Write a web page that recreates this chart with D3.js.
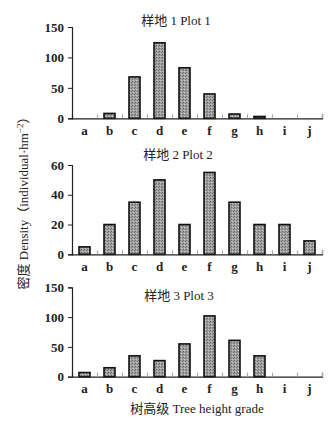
<!DOCTYPE html>
<html>
<head>
<meta charset="utf-8">
<script src="https://cdn.jsdelivr.net/npm/d3@7"></script>
<style>
  body { margin: 0; background: #fff; }
  text { font-family: "Liberation Serif", "Noto Sans CJK SC", serif; }
</style>
</head>
<body>
<div id="chart"></div>
<script>
const categories = ["a", "b", "c", "d", "e", "f", "g", "h", "i", "j"];
const plot1Values = [0, 8, 68, 124, 83, 40, 7, 3, 0, 0];
const plot2Values = [5, 20, 35, 50, 20, 55, 35, 20, 20, 9];
const plot3Values = [7, 15, 35, 27, 55, 102, 61, 35, 0, 0];
const panelTitles = ["样地 1 Plot 1", "样地 2 Plot 2", "样地 3 Plot 3"];
const yTicks1 = [0, 50, 100, 150];
const yTicks2 = [0, 20, 40, 60];
const yTicks3 = [0, 50, 100, 150];

const W = 332, H = 423;
const left = 72, right = 322;

const svg = d3.select("#chart").append("svg")
  .attr("width", W)
  .attr("height", H);

// stipple fill for the bars
const pat = svg.append("defs").append("pattern")
  .attr("id", "stipple")
  .attr("width", 3)
  .attr("height", 3)
  .attr("patternUnits", "userSpaceOnUse");
pat.append("rect").attr("width", 3).attr("height", 3).attr("fill", "#a0a0a0");
pat.append("rect").attr("x", 0).attr("y", 0).attr("width", 1).attr("height", 1).attr("fill", "#666");
pat.append("rect").attr("x", 2).attr("y", 1).attr("width", 1).attr("height", 1).attr("fill", "#777");
pat.append("rect").attr("x", 1).attr("y", 2).attr("width", 1).attr("height", 1).attr("fill", "#c8c8c8");

const x = d3.scaleBand()
  .domain(categories)
  .range([left, right])
  .paddingInner(0.56)
  .paddingOuter(0.28);

const xEdge = d3.scaleLinear().domain([0, categories.length]).range([left, right]);

const panels = [
  { values: plot1Values, ticks: yTicks1, max: 150, top: 27, bottom: 118.3, title: panelTitles[0], titleY: 25, titleX: 176 },
  { values: plot2Values, ticks: yTicks2, max: 60, top: 165, bottom: 254.3, title: panelTitles[1], titleY: 159, titleX: 178 },
  { values: plot3Values, ticks: yTicks3, max: 150, top: 287.3, bottom: 376.7, title: panelTitles[2], titleY: 300, titleX: 179 }
];

panels.forEach(p => {
  const y = d3.scaleLinear().domain([0, p.max]).range([p.bottom, p.top]);
  const g = svg.append("g");

  g.selectAll("rect.bar")
    .data(p.values.map((v, i) => ({ cat: categories[i], v: v })).filter(d => d.v > 0))
    .enter()
    .append("rect")
    .attr("class", "bar")
    .attr("x", d => x(d.cat))
    .attr("y", d => y(d.v))
    .attr("width", x.bandwidth())
    .attr("height", d => y(0) - y(d.v))
    .attr("fill", "url(#stipple)")
    .attr("stroke", "#111")
    .attr("stroke-width", 1.6);

  // category boundary ticks (pointing up)
  const edge = g.append("g")
    .attr("transform", `translate(0,${p.bottom})`)
    .call(d3.axisBottom(xEdge).tickValues(d3.range(1, categories.length + 1)).tickSize(-4).tickFormat(""));
  edge.select(".domain").attr("stroke", "#222").attr("stroke-width", 1.2);
  edge.selectAll(".tick line").attr("stroke", "#aaa").attr("stroke-width", 1.2);

  const xl = g.append("g")
    .attr("transform", `translate(0,${p.bottom})`)
    .call(d3.axisBottom(x).tickSize(0).tickPadding(7));
  xl.select(".domain").remove();
  xl.selectAll("text")
    .style("font-size", "13px")
    .style("font-weight", "bold")
    .attr("fill", "#222");

  const ya = g.append("g")
    .attr("transform", `translate(${left},0)`)
    .call(d3.axisLeft(y).tickValues(p.ticks).tickSize(4).tickPadding(4));
  ya.select(".domain").attr("stroke", "#222").attr("stroke-width", 1.2);
  ya.selectAll(".tick line").attr("stroke", "#222");
  ya.selectAll("text")
    .style("font-size", "13px")
    .style("font-weight", "bold")
    .attr("fill", "#222");

  g.append("text")
    .attr("x", p.titleX)
    .attr("y", p.titleY)
    .attr("text-anchor", "middle")
    .style("font-size", "13px")
    .attr("fill", "#222")
    .text(p.title);
});

svg.append("text")
  .attr("x", 197)
  .attr("y", 413)
  .attr("text-anchor", "middle")
  .style("font-size", "13px")
  .attr("fill", "#222")
  .text("树高级 Tree height grade");

const yTitle = svg.append("text")
  .attr("transform", "translate(28,200) rotate(-90)")
  .attr("text-anchor", "middle")
  .style("font-size", "13px")
  .attr("fill", "#222");
yTitle.append("tspan").text("密度 Density（individual·hm");
yTitle.append("tspan").attr("dy", -5).style("font-size", "9px").text("−2");
yTitle.append("tspan").attr("dy", 5).text("）");
</script>
</body>
</html>
